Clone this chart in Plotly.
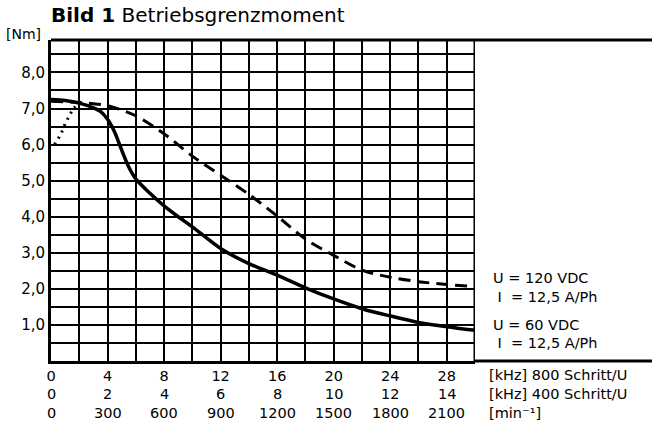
import plotly.graph_objects as go

# ---- data ----
x60 = [0, 1, 2, 3, 3.5, 4, 4.5, 5, 5.5, 6, 7, 8, 9, 10, 12, 14, 16, 18, 20, 22, 24, 26, 28, 30]
y60 = [7.25, 7.22, 7.15, 7.02, 6.92, 6.7, 6.35, 5.85, 5.38, 5.05, 4.65, 4.3, 4.0, 3.72,
       3.12, 2.7, 2.38, 2.03, 1.72, 1.45, 1.25, 1.07, 0.95, 0.85]

x120 = [0, 2, 4, 6, 8, 10, 12, 14, 16, 18, 20, 22, 24, 26, 28, 30]
y120 = [7.2, 7.17, 7.08, 6.8, 6.3, 5.68, 5.15, 4.62, 4.02, 3.38, 2.93, 2.52, 2.32, 2.2, 2.12, 2.07]

x_start = [0.25, 0.7, 1.0, 1.3, 1.6, 1.9]
y_start = [6.0, 6.3, 6.57, 6.8, 7.0, 7.12]

khz800 = [0, 4, 8, 12, 16, 20, 24, 28]
khz400 = [0, 2, 4, 6, 8, 10, 12, 14]
rpm = [0, 300, 600, 900, 1200, 1500, 1800, 2100]
ylabels = ["1,0", "2,0", "3,0", "4,0", "5,0", "6,0", "7,0", "8,0"]
yvals = [1, 2, 3, 4, 5, 6, 7, 8]

FONT = "DejaVu Sans"
W, H = 652, 426
L, R, T, B = 51, 475, 40, 361
xd = [L / W, R / W]
yd = [(H - B) / H, (H - T) / H]

fig = go.Figure()
fig.add_trace(go.Scatter(x=x120, y=y120, mode="lines", line=dict(color="black", width=3, dash="12px,7px", shape="spline", smoothing=0.8), hoverinfo="skip"))
fig.add_trace(go.Scatter(x=x60, y=y60, mode="lines", line=dict(color="black", width=3.5, shape="spline", smoothing=0.8), hoverinfo="skip"))
fig.add_trace(go.Scatter(x=x_start, y=y_start, mode="lines", line=dict(color="black", width=3, dash="2px,5px", shape="spline"), hoverinfo="skip"))

# x ticks: grid every 2, labels every 4 (first row of labels)
xtv, xtt = [], []
for v in range(0, 31, 2):
    xtv.append(v)
    xtt.append(str(v) if v in khz800 else "")
ytv, ytt = [], []
for k in range(1, 18):
    v = k * 0.5
    ytv.append(v)
    ytt.append(ylabels[yvals.index(v)] if v in yvals else "")

fig.update_layout(
    width=W, height=H, margin=dict(l=0, r=0, t=0, b=0, autoexpand=False),
    paper_bgcolor="white", plot_bgcolor="white", showlegend=False,
    font=dict(family=FONT, size=15, color="black"),
    xaxis=dict(domain=xd, range=[0, 30], tickmode="array", tickvals=xtv, ticktext=xtt,
               tickfont=dict(size=14.5),
               showgrid=True, gridcolor="black", gridwidth=1.6, zeroline=False, automargin=False,
               showline=True, linecolor="black", linewidth=3, ticks="", fixedrange=True),
    yaxis=dict(domain=yd, range=[0, 8.9], tickmode="array", tickvals=ytv, ticktext=ytt,
               showgrid=True, gridcolor="black", gridwidth=1.6, zeroline=False, automargin=False,
               showline=True, linecolor="black", linewidth=3, ticks="", fixedrange=True),
)

# frame lines
fig.add_shape(type="line", xref="paper", yref="paper", x0=xd[0], x1=1, y0=yd[1], y1=yd[1], line=dict(color="black", width=3))
fig.add_shape(type="line", xref="x", yref="paper", x0=30, x1=30, y0=yd[0], y1=yd[1], line=dict(color="black", width=3))
fig.add_shape(type="line", xref="paper", yref="paper", x0=xd[1], x1=1, y0=yd[0], y1=yd[0], line=dict(color="black", width=3))

# second and third rows of x tick labels, placed on the x scale
for k, a, b in zip(khz800, khz400, rpm):
    for txt, yp in ((str(a), 394), (str(b), 413)):
        fig.add_annotation(text=txt, x=k, xref="x", y=(H - yp) / H, yref="paper",
                           xanchor="center", yanchor="middle", showarrow=False,
                           font=dict(family=FONT, size=14.5, color="black"))

def ann(text, xp, yp, size=14.5, anchor="left"):
    fig.add_annotation(text=text, x=xp / W, y=(H - yp) / H, xref="paper", yref="paper",
                       xanchor=anchor, yanchor="middle", showarrow=False,
                       font=dict(family=FONT, size=size, color="black"))

ann("<b>Bild 1</b> Betriebsgrenzmoment", 49, 15, size=20)
ann("[Nm]", 4, 34, size=14)
ann("U = 120 VDC", 491, 278)
ann(" I  = 12,5 A/Ph", 491, 297)
ann("U = 60 VDC", 491, 325)
ann(" I  = 12,5 A/Ph", 491, 343)
ann("[kHz] 800 Schritt/U", 487, 375)
ann("[kHz] 400 Schritt/U", 487, 394)
ann("[min⁻¹]", 487, 413)

fig.write_html("out.html", config={"displayModeBar": False},
               post_script="document.body.style.margin='0';document.body.style.overflow='hidden';")
